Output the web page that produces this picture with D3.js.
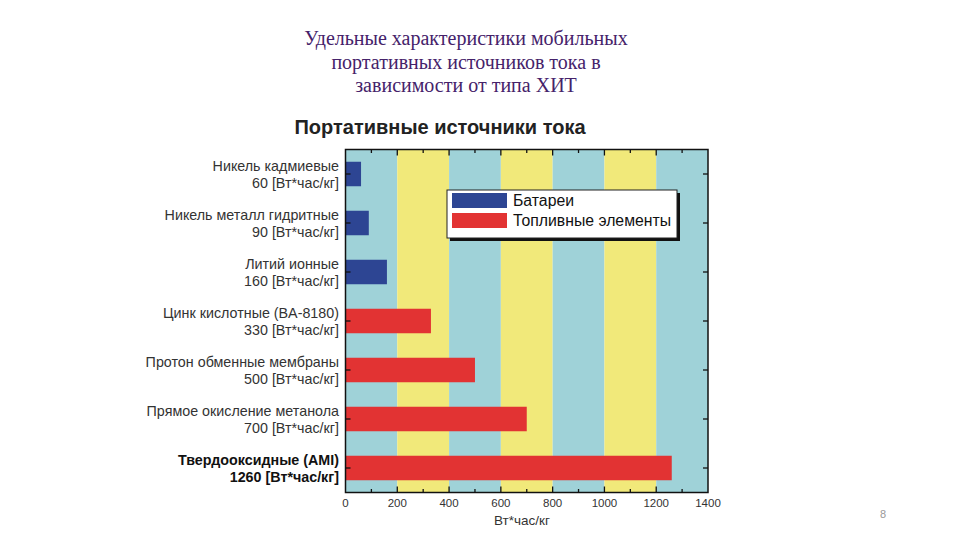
<!DOCTYPE html>
<html><head><meta charset="utf-8">
<script src="https://cdn.jsdelivr.net/npm/d3@7/dist/d3.min.js"></script>
<style>body{margin:0;background:#fff}</style>
</head><body>
<svg id="c" width="960" height="540"></svg>
<script>
const titleLines = ["Удельные характеристики мобильных","портативных источников тока в","зависимости от типа ХИТ"];
const chartTitle = "Портативные источники тока";
const categoryNames = ["Никель кадмиевые","Никель металл гидритные","Литий ионные","Цинк кислотные (BA-8180)","Протон обменные мембраны","Прямое окисление метанола","Твердооксидные (AMI)"];
const values = [60, 90, 160, 330, 500, 700, 1260];
const seriesOf = ["Батареи","Батареи","Батареи","Топливные элементы","Топливные элементы","Топливные элементы","Топливные элементы"];
const seriesNames = ["Батареи","Топливные элементы"];
const unitLabel = "[Вт*час/кг]";
const xTicks = [0,200,400,600,800,1000,1200,1400];
const xLabel = "Вт*час/кг";
const pageNumber = "8";

const svg = d3.select("#c");
const L = 345.5, R = 708, T = 149.5, B = 492.5;
const x = d3.scaleLinear().domain([0,1400]).range([L,R]);
const y = d3.scaleBand().domain(categoryNames).range([T,B]).paddingInner(0.5).paddingOuter(0.25);
const color = d3.scaleOrdinal().domain(seriesNames).range(["#2d4593","#e23333"]);

// Page title
svg.append("g").selectAll("text").data(titleLines).join("text")
  .attr("x",466).attr("y",(d,i)=>45+i*23.5).attr("text-anchor","middle")
  .attr("font-family","Liberation Serif, serif").attr("font-size",20).attr("fill","#45226a").text(d=>d);

svg.append("text").attr("x",440).attr("y",134).attr("text-anchor","middle")
  .attr("font-family","Liberation Sans, Arial, sans-serif").attr("font-weight","bold").attr("font-size",20)
  .attr("fill","#222").text(chartTitle);

// stripes
const stripes = d3.range(0,1400,200);
svg.append("g").selectAll("rect").data(stripes).join("rect")
  .attr("x",d=>x(d)).attr("y",T).attr("width",d=>x(d+200)-x(d)).attr("height",B-T)
  .attr("fill",(d,i)=>i%2?"#f1e97a":"#9fd2d8");

// bars
svg.append("g").selectAll("rect").data(categoryNames).join("rect")
  .attr("x",x(0)).attr("y",d=>y(d)).attr("height",y.bandwidth())
  .attr("width",(d,i)=>x(values[i])-x(0)).attr("fill",(d,i)=>color(seriesOf[i]));

// frame
svg.append("rect").attr("x",L).attr("y",T).attr("width",R-L).attr("height",B-T)
  .attr("fill","none").attr("stroke","#111").attr("stroke-width",1.5);

// ticks
const minor = d3.range(100,1400,200);
const tg = svg.append("g").attr("stroke","#111").attr("stroke-width",1.3);
xTicks.slice(1,-1).forEach(v=>{
  tg.append("line").attr("x1",x(v)).attr("x2",x(v)).attr("y1",B).attr("y2",B-6);
  tg.append("line").attr("x1",x(v)).attr("x2",x(v)).attr("y1",T).attr("y2",T+6);
});
minor.forEach(v=>{
  tg.append("line").attr("x1",x(v)).attr("x2",x(v)).attr("y1",B).attr("y2",B-3.5);
  tg.append("line").attr("x1",x(v)).attr("x2",x(v)).attr("y1",T).attr("y2",T+3.5);
});
categoryNames.forEach(c=>{
  const cy = y(c)+y.bandwidth()/2;
  tg.append("line").attr("x1",L).attr("x2",L+5).attr("y1",cy).attr("y2",cy);
  tg.append("line").attr("x1",R).attr("x2",R-5).attr("y1",cy).attr("y2",cy);
});

// x tick labels
svg.append("g").selectAll("text").data(xTicks).join("text")
  .attr("x",d=>x(d)).attr("y",507).attr("text-anchor","middle")
  .attr("font-family","Liberation Sans, Arial, sans-serif").attr("font-size",11.5).attr("fill","#333").text(d=>d);
svg.append("text").attr("x",522).attr("y",525).attr("text-anchor","middle")
  .attr("font-family","Liberation Sans, Arial, sans-serif").attr("font-size",13.5).attr("fill","#333").text(xLabel);

// category labels
const lg = svg.append("g").attr("font-family","Liberation Sans, Arial, sans-serif").attr("font-size",14.3).attr("fill","#333").attr("text-anchor","end");
categoryNames.forEach((c,i)=>{
  const cy = y(c)+y.bandwidth()/2;
  const bold = i===categoryNames.length-1;
  const t = lg.append("text").attr("x",339).attr("y",cy-3).attr("font-weight",bold?"bold":"normal").attr("fill",bold?"#111":"#333");
  t.append("tspan").attr("x",339).text(c);
  t.append("tspan").attr("x",339).attr("dy",17).text(values[i]+" "+unitLabel);
});

// legend
const lgX=447, lgY=190, lgW=230, lgH=48;
svg.append("rect").attr("x",lgX+3).attr("y",lgY+3).attr("width",lgW).attr("height",lgH).attr("fill","#111");
svg.append("rect").attr("x",lgX).attr("y",lgY).attr("width",lgW).attr("height",lgH).attr("fill","#fff").attr("stroke","#222").attr("stroke-width",1);
seriesNames.forEach((s,i)=>{
  svg.append("rect").attr("x",lgX+5).attr("y",lgY+3+i*20).attr("width",55).attr("height",15).attr("fill",color(s));
  svg.append("text").attr("x",lgX+66).attr("y",lgY+16+i*20).attr("font-family","Liberation Sans, Arial, sans-serif")
    .attr("font-size",15.8).attr("fill","#111").text(s);
});

svg.append("text").attr("x",883).attr("y",518).attr("text-anchor","middle")
  .attr("font-family","Liberation Sans, Arial, sans-serif").attr("font-size",11).attr("fill","#999").text(pageNumber);
</script>
</body></html>
